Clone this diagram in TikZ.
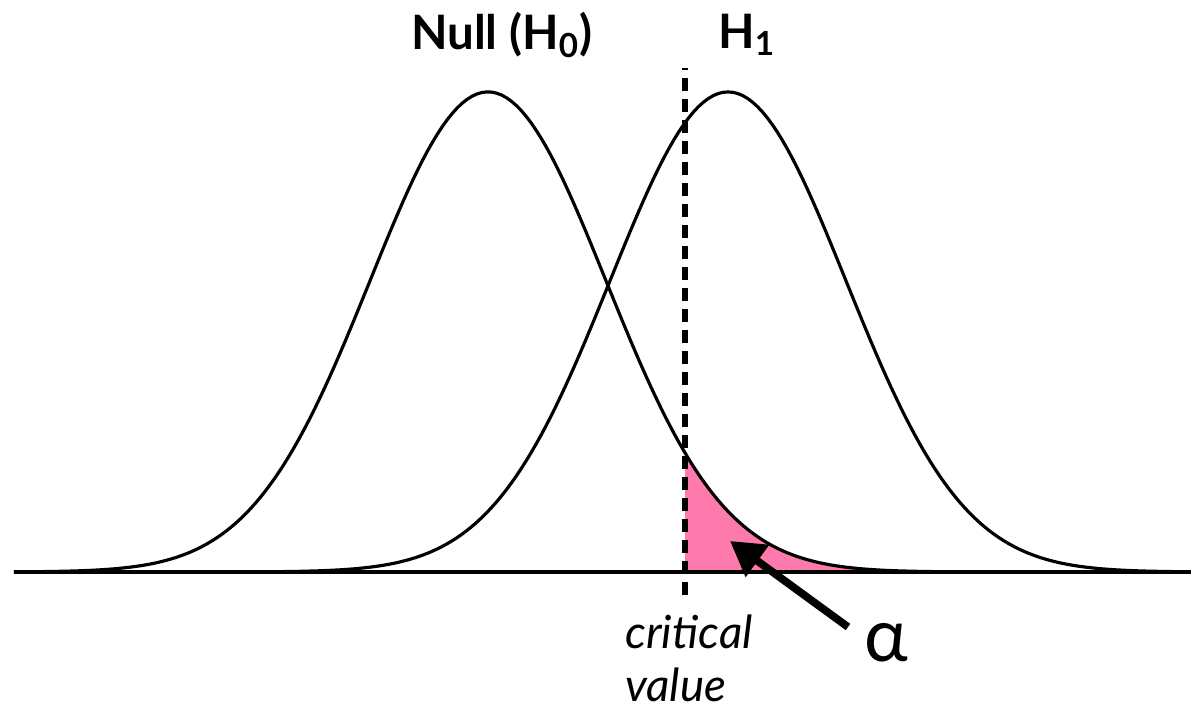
\documentclass[tikz,border=0pt]{standalone}
\usepackage{fontspec}
\setmainfont{Lato}
\usepackage{tikz}
\usetikzlibrary{positioning,arrows.meta,calc}
\definecolor{tkPink}{RGB}{255,122,172}

\begin{document}
\begin{tikzpicture}[x=1cm, y=1cm,
  curve/.style={line width=0.9pt, black},
  crit/.style={line width=1.6pt, dash pattern=on 0.13cm off 0.08cm},
  ptr/.style={-{Triangle[length=3.4mm, width=3.8mm]}, line width=2.2pt},
  title/.style={font=\fontsize{13.5}{15}\selectfont\bfseries},
]
\useasboundingbox (0,0) rectangle (11.91,7.05);
% alpha region under the null tail
\fill[tkPink] (6.85,1.33) -- plot[domain=6.85:11.91, samples=120]
  (\x, {1.33+4.8*exp(-((\x-4.88)^2)/(2*1.18*1.18))}) -- (11.91,1.33) -- cycle;
% axis and the two curves
\draw[curve] (0.14,1.33) -- (11.91,1.33);
\draw[curve] plot[domain=0.14:11.91, samples=240]
  (\x, {1.33+4.8*exp(-((\x-4.88)^2)/(2*1.18*1.18))});
\draw[curve] plot[domain=0.14:11.91, samples=240]
  (\x, {1.33+4.8*exp(-((\x-7.28)^2)/(2*1.18*1.18))});
% critical value
\coordinate (ctop) at (6.85,6.37);
\coordinate (cbot) at (6.85,1.10);
\draw[crit] (cbot) -- (ctop);
\node[font=\fontsize{13}{15}\selectfont\itshape, align=left, anchor=west] (cval) at (6.13,0.47) {critical\\value};
% labels
\node[title] (null) at (5.02,6.70) {Null (H\textsubscript{0})};
\node[title] (alt) at (7.47,6.70) {H\textsubscript{1}};
\node[font=\fontsize{21}{24}\selectfont] (alpha) at (8.86,0.62) {α};
\coordinate (atail) at (8.48,0.78);
\coordinate (atip) at (7.30,1.64);
\draw[ptr] (atail) -- (atip);
\end{tikzpicture}
\end{document}
